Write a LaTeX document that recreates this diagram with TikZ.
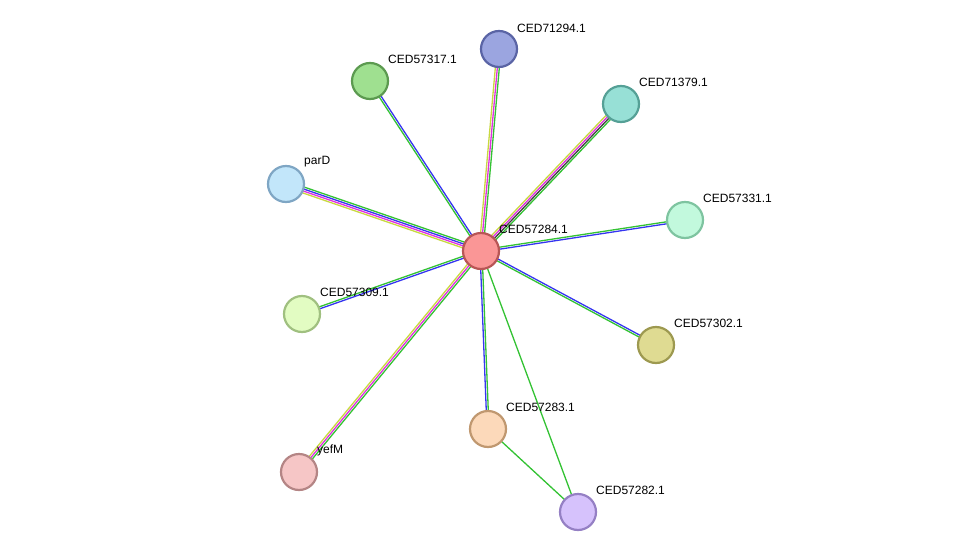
\documentclass[tikz,border=0pt]{standalone}
\usepackage{fontspec}
\setmainfont{Liberation Sans}
\usetikzlibrary{calc}
\definecolor{eg}{HTML}{33C233}
\definecolor{eb}{HTML}{3535F0}
\definecolor{em}{HTML}{E030E0}
\definecolor{ey}{HTML}{C8D840}
\definecolor{ek}{HTML}{404040}
\tikzset{
  prot/.style={circle,minimum size=36pt,inner sep=0pt,line width=2.2pt},
  lbl/.style={anchor=west,font=\fontsize{12pt}{14pt}\selectfont,inner sep=0pt},
  edge/.style={line width=1.3pt}
}
\newcommand\medge[3]{%
  \foreach \c/\o in {#3}{%
    \draw[edge,\c] ($(#1)!\o pt!90:(#2)$) -- ($(#2)!\o pt!-90:(#1)$);}}
\begin{document}
\begin{tikzpicture}[x=1pt,y=-1pt]
\useasboundingbox (0,0) rectangle (975,557);
\coordinate (c) at (481,251);
\coordinate (p71294) at (499,49);
\coordinate (p57317) at (370,81);
\coordinate (p71379) at (621,104);
\coordinate (parD) at (286,184);
\coordinate (p57331) at (685,220);
\coordinate (p57309) at (302,314);
\coordinate (p57302) at (656,345);
\coordinate (p57283) at (488,429);
\coordinate (yefM) at (299,472);
\coordinate (p57282) at (578,512);
\medge{c}{p71294}{eg/-2,em/0,ey/2}
\medge{c}{p57317}{eb/-1,eg/1}
\medge{c}{p71379}{eg/-3,ek/-1,em/1,ey/3}
\medge{c}{parD}{ey/3,em/1,eb/-1,eg/-3}
\medge{c}{p57331}{eg/1,eb/-1}
\medge{c}{p57309}{eb/1,eg/-1}
\medge{c}{p57302}{eb/1,eg/-1}
\medge{c}{p57283}{eg/1,eb/-1}
\medge{c}{yefM}{ey/-2,em/0,eg/2}
\medge{c}{p57282}{eg/0}
\medge{p57283}{p57282}{eg/0}
\node[prot,fill={rgb,255:red,250;green,150;blue,150},draw={rgb,255:red,184;green,86;blue,86}] (nc) at (c) {};
\node[prot,fill={rgb,255:red,155;green,165;blue,224},draw={rgb,255:red,90;green,100;blue,165}] (n1) at (p71294) {};
\node[prot,fill={rgb,255:red,159;green,224;blue,144},draw={rgb,255:red,92;green,154;blue,80}] (n2) at (p57317) {};
\node[prot,fill={rgb,255:red,151;green,224;blue,214},draw={rgb,255:red,85;green,160;blue,150}] (n3) at (p71379) {};
\node[prot,fill={rgb,255:red,194;green,230;blue,250},draw={rgb,255:red,127;green,166;blue,196}] (n4) at (parD) {};
\node[prot,fill={rgb,255:red,194;green,249;blue,221},draw={rgb,255:red,126;green,196;blue,160}] (n5) at (p57331) {};
\node[prot,fill={rgb,255:red,226;green,252;blue,194},draw={rgb,255:red,160;green,192;blue,128}] (n6) at (p57309) {};
\node[prot,fill={rgb,255:red,223;green,219;blue,146},draw={rgb,255:red,157;green,153;blue,80}] (n7) at (p57302) {};
\node[prot,fill={rgb,255:red,252;green,217;blue,186},draw={rgb,255:red,192;green,152;blue,112}] (n8) at (p57283) {};
\node[prot,fill={rgb,255:red,246;green,198;blue,198},draw={rgb,255:red,180;green,133;blue,133}] (n9) at (yefM) {};
\node[prot,fill={rgb,255:red,214;green,194;blue,252},draw={rgb,255:red,149;green,128;blue,196}] (n10) at (p57282) {};
\node[lbl] (l0) at ($(c)+(18,-22)$) {CED57284.1};
\node[lbl] (l1) at ($(p71294)+(18,-21)$) {CED71294.1};
\node[lbl] (l2) at ($(p57317)+(18,-22)$) {CED57317.1};
\node[lbl] (l3) at ($(p71379)+(18,-22)$) {CED71379.1};
\node[lbl] (l4) at ($(parD)+(18,-22)$) {parD};
\node[lbl] (l5) at ($(p57331)+(18,-22)$) {CED57331.1};
\node[lbl] (l6) at ($(p57309)+(18,-22)$) {CED57309.1};
\node[lbl] (l7) at ($(p57302)+(18,-22)$) {CED57302.1};
\node[lbl] (l8) at ($(p57283)+(18,-22)$) {CED57283.1};
\node[lbl] (l9) at ($(yefM)+(18,-22)$) {yefM};
\node[lbl] (l10) at ($(p57282)+(18,-22)$) {CED57282.1};
\end{tikzpicture}
\end{document}
